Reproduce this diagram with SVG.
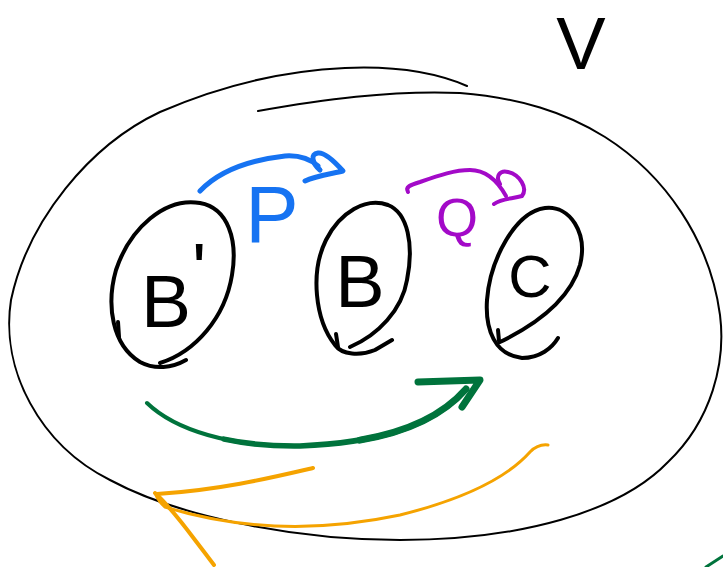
<svg xmlns="http://www.w3.org/2000/svg" width="723" height="567" viewBox="0 0 723 567">
  <style>
    .ink { fill: none; stroke-linecap: round; stroke-linejoin: round; }
    .node { stroke: #000; stroke-width: 4; }
    .set { stroke: #000; stroke-width: 2; }
    .lbl { font-family: "Liberation Sans", Arial, sans-serif; text-anchor: middle; }
    .blue { stroke: #1673f2; }
    .purple { stroke: #a30ac8; }
    .green { stroke: #00733c; }
    .orange { stroke: #f5a300; }
  </style>
  <rect width="723" height="567" fill="#fff"/>

  <!-- enclosing set V -->
  <g id="set-V">
    <path class="ink set" d="M 467 86 C 430 70 390 66 345 68 C 280 71 215 88 160 112 C 90 145 28 220 11 300 C 0 370 40 445 110 480 C 175 515 290 540 400 540 C 520 540 620 512 668 462 C 712 420 726 362 720 315 C 710 240 665 175 605 137 C 565 112 520 98 460 93 C 390 90 320 100 258 111"/>
    <text class="lbl" x="581" y="69" font-size="74" fill="#000">V</text>
  </g>

  <!-- node B' -->
  <g id="node-Bprime">
    <path class="ink node" d="M 160 363 C 195 352 225 318 232 275 C 238 240 228 208 200 203 C 165 197 130 228 116 270 C 106 305 112 345 140 362 C 155 370 172 368 186 360"/>
    <path class="ink node" d="M 118 322 L 119 337"/>
    <text x="141" y="327" font-size="75" font-family="Liberation Sans, Arial, sans-serif" fill="#000">B</text>
    <text x="192" y="295" font-size="75" font-family="Liberation Sans, Arial, sans-serif" fill="#000">'</text>
  </g>

  <!-- node B -->
  <g id="node-B">
    <path class="ink node" d="M 350 347 C 378 335 402 310 407 280 C 414 245 408 213 388 205 C 366 197 340 212 326 240 C 310 272 315 320 335 345 C 342 355 360 356 375 350 L 392 340"/>
    <path class="ink node" d="M 336 334 L 338 347"/>
    <text class="lbl" x="360" y="307" font-size="74" fill="#000">B</text>
  </g>

  <!-- node C -->
  <g id="node-C">
    <path class="ink node" d="M 500 342 C 535 325 570 300 580 265 C 588 233 570 205 545 208 C 515 212 490 260 487 300 C 485 330 495 355 522 358 C 540 358 552 348 558 338"/>
    <path class="ink node" d="M 498 330 L 499 341"/>
    <text class="lbl" x="530" y="297" font-size="60" fill="#000">C</text>
  </g>

  <!-- connectors -->
  <g id="connectors">
    <!-- P : B' to B -->
    <path class="ink blue" stroke-width="5" d="M 200 191 C 220 170 250 160 285 156 C 300 155 310 159 318 166"/>
    <path class="ink blue" stroke-width="5" d="M 320 170 C 312 163 310 154 318 153 C 325 152 335 162 343 171 C 330 174 315 176 305 181"/>
    <text class="lbl" x="272" y="242" font-size="80" fill="#1673f2">P</text>

    <!-- Q : B to C -->
    <path class="ink purple" stroke-width="4" d="M 408 192 C 405 187 410 185 420 182 C 440 175 455 170 470 170 C 485 170 497 180 506 196"/>
    <path class="ink purple" stroke-width="4" d="M 500 184 C 495 176 500 170 508 172 C 520 175 528 188 522 196 C 512 199 502 198 494 204"/>
    <text class="lbl" x="457" y="236" font-size="54" fill="#a30ac8">Q</text>

    <!-- composite B' to C: stacked strokes so the line thickens toward the head -->
    <path class="ink green" stroke-width="4" d="M 147 403 C 175 430 230 447 300 446 C 370 443 430 430 466 389"/>
    <path class="ink green" stroke-width="5.5" d="M 224 439.1 C 246.4 443.9 272 446.4 300 446 C 370 443 430 430 466 389"/>
    <path class="ink green" stroke-width="7" d="M 359.9 440.1 C 403.8 432.7 440.8 417.7 466 389"/>
    <path class="ink green" stroke-width="7" d="M 418 382 L 480 380 L 462 407"/>

    <!-- return arrow -->
    <path class="ink orange" stroke-width="4" d="M 313 468 C 270 478 220 490 157 494"/>
    <path class="ink orange" stroke-width="4" d="M 155 493 C 165 502 180 520 195 540 C 205 553 211 561 214 565"/>
    <path class="ink orange" stroke-width="3" d="M 548 445 C 540 444 535 447 530 452 C 505 480 460 500 400 515 C 320 532 240 530 165 507 C 160 503 157 498 155 493"/>

    <!-- stray stroke at lower right -->
    <path class="ink green" stroke-width="3" d="M 706 567 L 723 556"/>
  </g>
</svg>
